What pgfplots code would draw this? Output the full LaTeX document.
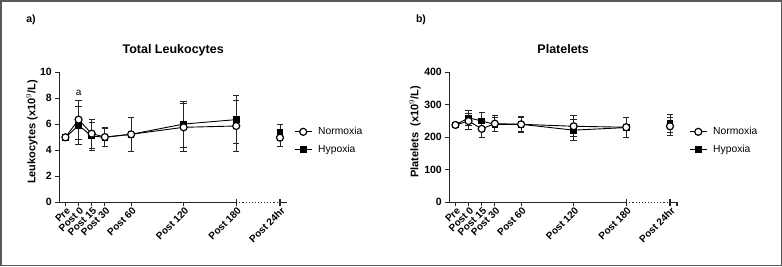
\documentclass[border=0pt]{standalone}
\usepackage{pgfplots}
\pgfplotsset{compat=1.18}
\usepackage{fontspec}
\setmainfont{Liberation Sans}

\pgfplotsset{
 panel/.style={
  scale only axis, width=227.7pt, height=130pt,
  xmin=0, xmax=260, ymin=0,
  axis lines*=left, x axis line style={draw=none},
  axis line style={line width=1.1pt, black!85},
  tick style={line width=1.1pt, black!85},
  major tick length=4pt, tick align=outside,
  xtick={7,22,37,52,82,142,202,252},
  xticklabels={Pre,Post 0,Post 15,Post 30,Post 60,Post 120,Post 180,Post 24hr},
  xticklabel style={rotate=45, anchor=east, font=\bfseries\fontsize{10}{12}\selectfont, inner sep=1pt, yshift=-4pt, xshift=1.5pt},
  yticklabel style={font=\bfseries\fontsize{10.5}{12}\selectfont},
  /pgf/number format/assume math mode=true,
  clip=false,
  title style={at={(0.5,1.095)}, anchor=base, font=\bfseries\fontsize{12.5}{14}\selectfont},
  legend style={draw=none, fill=none, font=\fontsize{10.3}{12}\selectfont, anchor=west, inner xsep=0pt, row sep=4.5pt, column sep=4pt, cells={anchor=west}},
  every axis plot/.append style={line width=0.9pt, black},
 },
 normo/.style={mark=*, mark size=3.5pt, mark options={fill=white, draw=black, line width=1.2pt, solid}},
 hypo/.style={mark=square*, mark size=2.8pt, mark options={fill=black, draw=black, solid}},
 eb/.style={error bars/.cd, y dir=both, y explicit, error bar style={line width=0.8pt, black!85}, error mark options={rotate=90, mark size=3.2pt, line width=0.8pt, black!85}},
}

\begin{document}
\begin{tikzpicture}[x=1pt,y=1pt]
\useasboundingbox (0,0) rectangle (782,266);
\draw[black!65, line width=1.5pt] (0.75,0.75) rectangle (781.25,265.25);
\node[font=\bfseries\fontsize{10.5}{12}\selectfont] at (31,246) {a)};
\node[font=\bfseries\fontsize{10.5}{12}\selectfont] at (421,246) {b)};

% ---------- Left panel ----------
\begin{axis}[panel, at={(59.3pt,63.7pt)}, anchor=origin,
  ymax=10, ytick={0,2,4,6,8,10},
  title={Total Leukocytes},
  ylabel={Leukocytes (x10$^{9}$/L)},
  ylabel style={at={(axis description cs:-0.12,0.54)}, anchor=center, font=\bfseries\fontsize{11}{13}\selectfont},
  legend style={at={(1.031,0.475)}}]
\draw[line width=1.1pt, black!85] (axis cs:0,0) -- (axis cs:202,0);
\draw[line width=1.1pt, black!85, dotted] (axis cs:202,0) -- (axis cs:252,0);
\draw[line width=1.1pt, black!85] (axis cs:252,0) -- (axis cs:260,0);
\draw[line width=1.1pt, black!85] ([yshift=3pt]axis cs:202,0) -- ([yshift=-4pt]axis cs:202,0);
\draw[line width=1.1pt, black!85] ([yshift=3pt]axis cs:252,0) -- ([yshift=-4pt]axis cs:252,0);
\addlegendimage{normo, line width=0.9pt, black}
\addlegendentry{Normoxia}
\addlegendimage{hypo, line width=0.9pt, black}
\addlegendentry{Hypoxia}
% Hypoxia
\addplot[forget plot, hypo, eb] coordinates {
 (7,4.98) +- (0,0.15)
 (22,5.92) +- (0,1.45)
 (37,5.10) +- (0,1.08)
 (52,5.00) +- (0,0.72)
 (82,5.23) +- (0,1.32)
 (142,6.02) +- (0,1.78)
 (202,6.36) +- (0,1.86)
};
\addplot[forget plot, hypo, only marks, eb] coordinates {
 (252,5.38) +- (0,0.65)
};
% Normoxia
\addplot[forget plot, normo, eb] coordinates {
 (7,5.00) +- (0,0.15)
 (22,6.36) +- (0,1.50)
 (37,5.28) +- (0,1.13)
 (52,5.02) +- (0,0.72)
 (82,5.23) +- (0,1.32)
 (142,5.77) +- (0,1.85)
 (202,5.87) +- (0,1.95)
};
\addplot[forget plot, normo, only marks, eb] coordinates {
 (252,4.97) +- (0,0.67)
};
\node[font=\fontsize{10}{12}\selectfont] at (axis cs:22,8.4) {a};
\end{axis}

% ---------- Right panel ----------
\begin{axis}[panel, at={(449.3pt,63.7pt)}, anchor=origin,
  ymax=400, ytick={0,100,200,300,400},
  title={Platelets},
  ylabel={Platelets\ \ (x10$^{9}$/L)},
  ylabel style={at={(axis description cs:-0.151,0.54)}, anchor=center, font=\bfseries\fontsize{11}{13}\selectfont},
  legend style={at={(1.053,0.475)}}]
\draw[line width=1.1pt, black!85] (axis cs:0,0) -- (axis cs:202,0);
\draw[line width=1.1pt, black!85, dotted] (axis cs:202,0) -- (axis cs:252,0);
\draw[line width=1.1pt, black!85] (axis cs:252,0) -- (axis cs:260,0);
\draw[line width=1.1pt, black!85] ([yshift=3pt]axis cs:202,0) -- ([yshift=-4pt]axis cs:202,0);
\draw[line width=1.1pt, black!85] ([yshift=3pt]axis cs:252,0) -- ([yshift=-4pt]axis cs:252,0);
\draw[line width=1.1pt, black!85] (axis cs:260,0) -- ([yshift=-4pt]axis cs:260,0);
\addlegendimage{normo, line width=0.9pt, black}
\addlegendentry{Normoxia}
\addlegendimage{hypo, line width=0.9pt, black}
\addlegendentry{Hypoxia}
% Hypoxia
\addplot[forget plot, hypo, eb] coordinates {
 (7,238) +- (0,4)
 (22,260) +- (0,22)
 (37,250) +- (0,27)
 (52,240) +- (0,22)
 (82,240) +- (0,22)
 (142,222) +- (0,32)
 (202,230) +- (0,30)
};
\addplot[forget plot, hypo, only marks, eb] coordinates {
 (252,243) +- (0,27)
};
% Normoxia
\addplot[forget plot, normo, eb] coordinates {
 (7,238) +- (0,4)
 (22,250) +- (0,25)
 (37,226) +- (0,27)
 (52,242) +- (0,24)
 (82,240) +- (0,24)
 (142,234) +- (0,32)
 (202,231) +- (0,31)
};
\addplot[forget plot, normo, only marks, eb] coordinates {
 (252,234) +- (0,27)
};
\end{axis}
\end{tikzpicture}
\end{document}
